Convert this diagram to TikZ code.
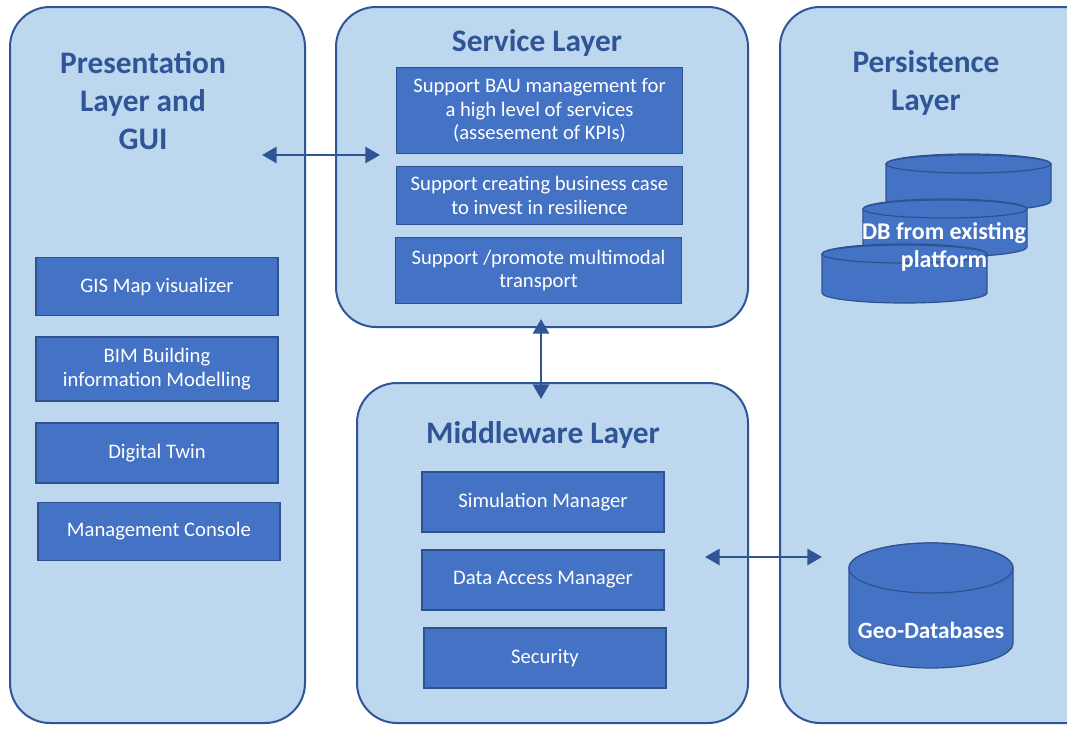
\documentclass[tikz,border=0pt]{standalone}
\usepackage{fontspec}
\setmainfont{Carlito}
\usetikzlibrary{arrows.meta,shapes.geometric}
\definecolor{panelfill}{HTML}{BDD7EE}
\definecolor{panelline}{HTML}{2F5597}
\definecolor{boxfill}{HTML}{4472C4}
\definecolor{boxline}{HTML}{2F528F}
\definecolor{titlecol}{HTML}{2F5597}
\definecolor{arrowcol}{HTML}{2F5597}
\tikzset{
  panel/.style={draw=panelline,fill=panelfill,line width=1.5pt,rounded corners=30pt},
  item/.style={draw=boxline,fill=boxfill,line width=0.8pt,text=white,align=center,inner sep=1pt,font=\fontsize{15.5}{17.5}\selectfont},
  title/.style={text=titlecol,align=center,font=\bfseries\fontsize{23.5}{28.5}\selectfont},
  link/.style={draw=arrowcol,line width=2.2pt,{Triangle[length=11pt,width=12pt]}-{Triangle[length=11pt,width=12pt]}},
  cyl/.style={draw=boxline,fill=boxfill,line width=0.9pt},
}
\begin{document}
\begin{tikzpicture}[x=0.75pt,y=-0.75pt]
\clip (0,0) rectangle (1067,728);
\fill[white] (0,0) rectangle (1067,728);
% panels
\draw[panel] (10,7) rectangle (305,723);
\draw[panel] (336,7) rectangle (748,327);
\draw[panel] (780,7) rectangle (1110,723);
\draw[panel] (357,383) rectangle (748,723);
% titles
\node[title] (tpres) at (143,101) {Presentation\\Layer and\\GUI};
\node[title] (tserv) at (537,43) {Service Layer};
\node[title] (tpers) at (926,83) {Persistence\\Layer};
\node[title] (tmid) at (543,435) {Middleware Layer};
% presentation boxes
\node[item,minimum width=181.5pt,minimum height=44pt] (gis) at (157,286.5) {GIS Map visualizer};
\node[item,minimum width=181.5pt,minimum height=48pt] (bim) at (157,369) {BIM Building\\information Modelling};
\node[item,minimum width=181.5pt,minimum height=45pt] (dt) at (157,453) {Digital Twin};
\node[item,minimum width=181.5pt,minimum height=44pt] (mc) at (159,531.5) {Management Console};
% service boxes
\node[item,minimum width=214pt,minimum height=65pt] (s1) at (539.5,110.5) {Support BAU management for\\a high level of services\\(assesement of KPIs)};
\node[item,minimum width=214pt,minimum height=44pt] (s2) at (539.5,195.5) {Support creating business case\\to invest in resilience};
\node[item,minimum width=215pt,minimum height=49pt] (s3) at (538.5,270.5) {Support /promote multimodal\\transport};
% middleware boxes
\node[item,minimum width=181.5pt,minimum height=45pt] (sim) at (543,502) {Simulation Manager};
\node[item,minimum width=181.5pt,minimum height=45pt] (dam) at (543,580) {Data Access Manager};
\node[item,minimum width=181.5pt,minimum height=45pt] (sec) at (545,658) {Security};
% cylinders DB from existing platform
\draw[cyl] (886,164) -- (886,201) arc[start angle=180,end angle=0,x radius=82.5,y radius=10] -- (1051,164) arc[start angle=0,end angle=-180,x radius=82.5,y radius=10] -- cycle;
\draw[cyl] (968.5,164) ellipse[x radius=82.5,y radius=9];
\draw[cyl] (863,209) -- (863,247) arc[start angle=180,end angle=0,x radius=82,y radius=10] -- (1027,209) arc[start angle=0,end angle=-180,x radius=82,y radius=10] -- cycle;
\draw[cyl] (945,209) ellipse[x radius=82,y radius=9];
\draw[cyl] (822,254) -- (822,293) arc[start angle=180,end angle=0,x radius=82.5,y radius=10] -- (987,254) arc[start angle=0,end angle=-180,x radius=82.5,y radius=10] -- cycle;
\draw[cyl] (904.5,254) ellipse[x radius=82.5,y radius=9];
\node[text=white,align=center,font=\bfseries\fontsize{18}{21.5}\selectfont] (dbx) at (944,247) {DB from existing\\platform};
% geo database
\draw[cyl] (849,568) -- (849,643) arc[start angle=180,end angle=0,x radius=82,y radius=25] -- (1013,568) arc[start angle=0,end angle=-180,x radius=82,y radius=25] -- cycle;
\draw[cyl] (931,568) ellipse[x radius=82,y radius=25];
\node[text=white,font=\bfseries\fontsize{17.5}{20}\selectfont] (geo) at (931,630) {Geo-Databases};
% connectors
\coordinate (a1) at (262,155);
\coordinate (a2) at (380,155);
\coordinate (b1) at (541,319);
\coordinate (b2) at (541,399);
\coordinate (c1) at (705,557);
\coordinate (c2) at (822,557);
\draw[link] (a1) -- (a2);
\draw[link] (b1) -- (b2);
\draw[link] (c1) -- (c2);
\end{tikzpicture}
\end{document}
